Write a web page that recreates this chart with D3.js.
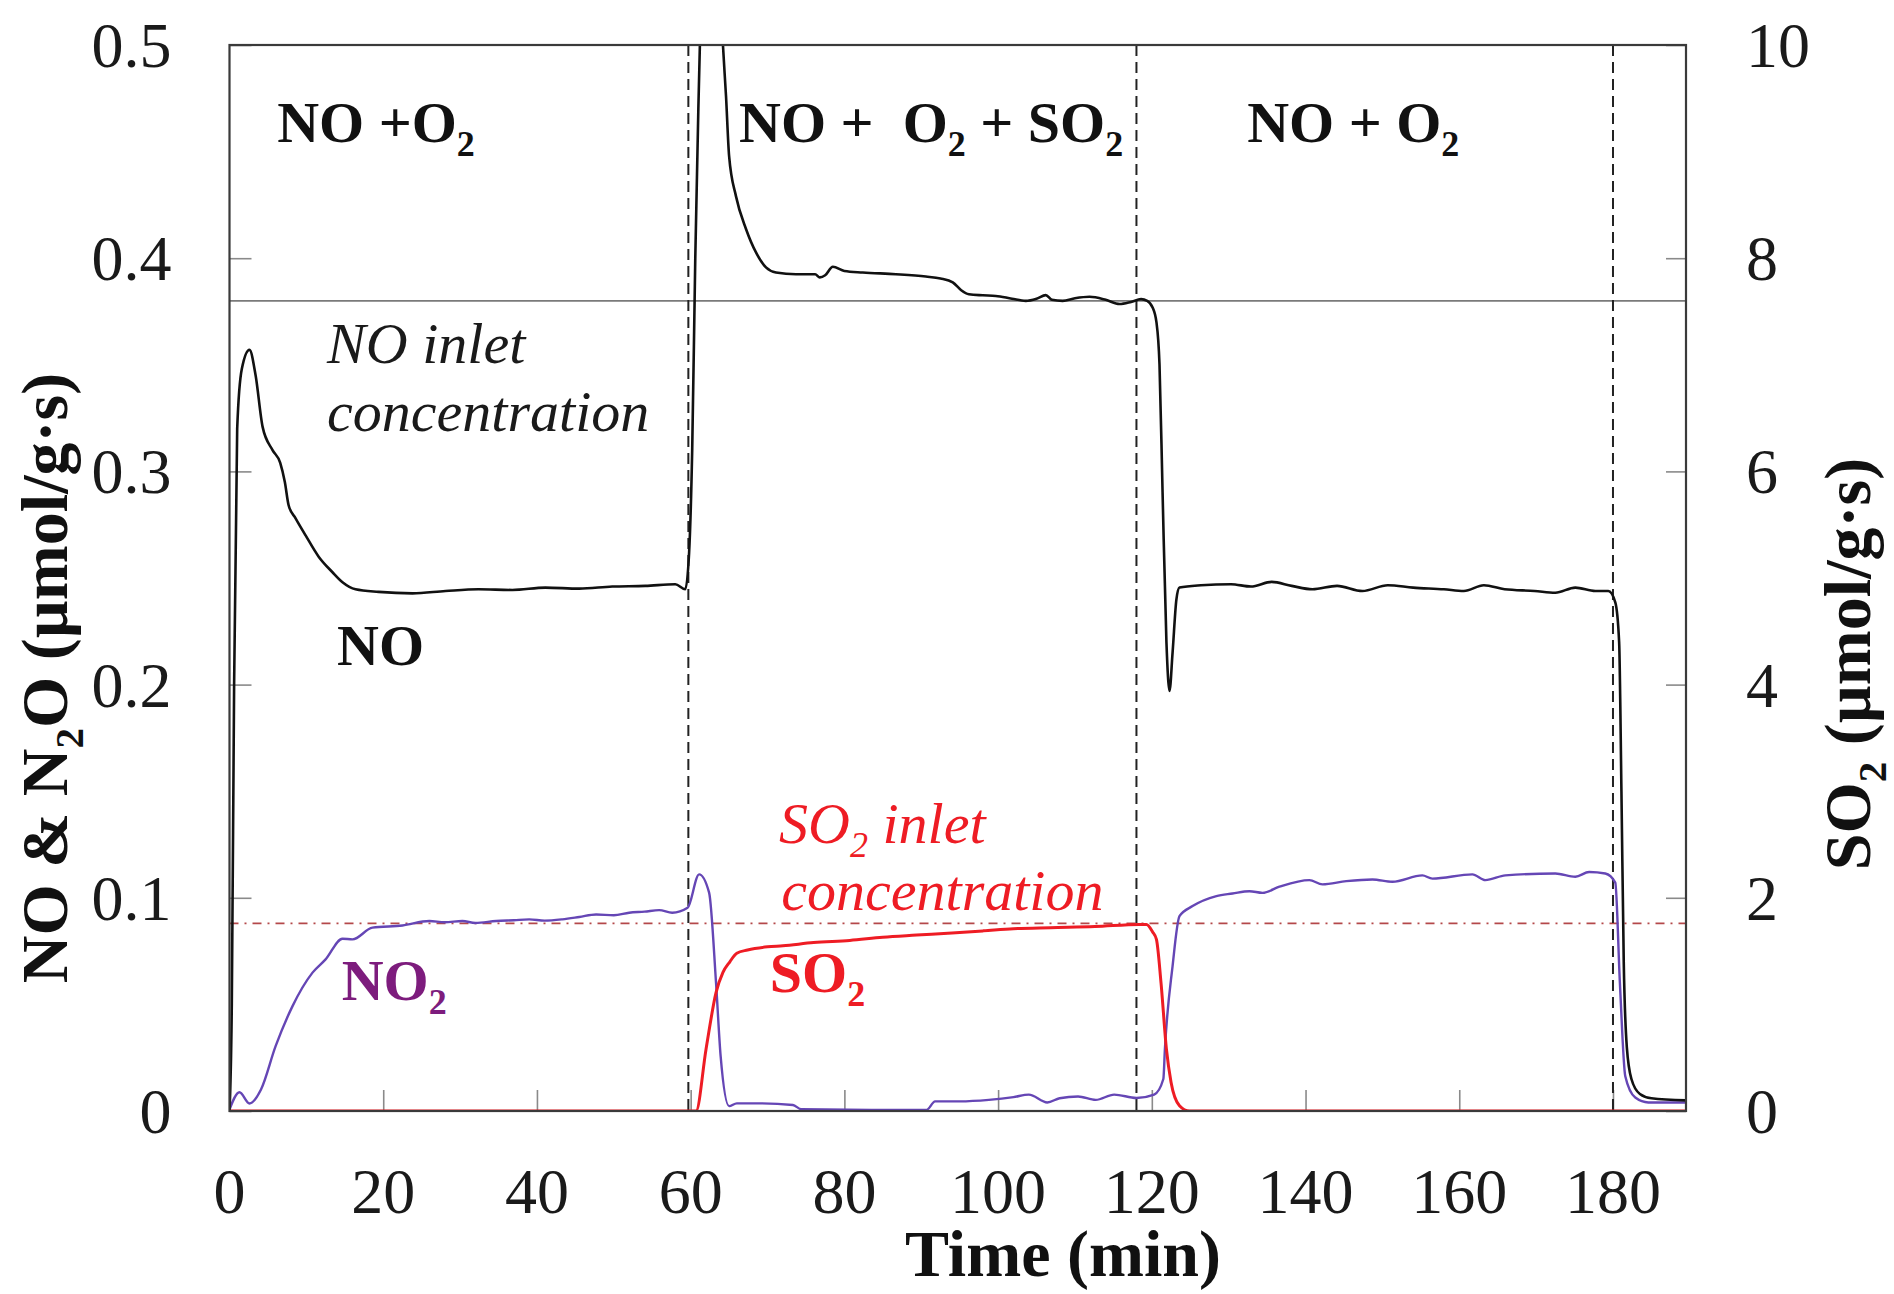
<!DOCTYPE html>
<html>
<head>
<meta charset="utf-8">
<script src="https://cdn.jsdelivr.net/npm/d3@7/dist/d3.min.js"></script>
<style>
  html, body { margin: 0; padding: 0; background: #ffffff; }
  svg { display: block; font-family: "Liberation Serif", "Times New Roman", serif; }
  text { white-space: pre; }
</style>
</head>
<body>
<svg id="chart" width="1894" height="1294"></svg>
<script>
// Time axis (min) and value axes
const timeTicks = [0, 20, 40, 60, 80, 100, 120, 140, 160, 180];
const leftTicks = [0, 0.1, 0.2, 0.3, 0.4, 0.5];
const leftTickLabels = ["0", "0.1", "0.2", "0.3", "0.4", "0.5"];
const rightTicks = [0, 2, 4, 6, 8, 10];

// Gas switching times (min)
const phaseBoundaries = [59.7, 118, 180];

// Inlet concentrations
const noInlet = 0.38;   // µmol/g·s, left axis
const so2Inlet = 1.76;  // µmol/g·s, right axis

// NO outlet (µmol/g·s), [time, value]
const noSeries = [
  [0,0],[0.3,0.05],[0.6,0.2],[1.0,0.32],[1.6,0.348],[2.6,0.357],[3.4,0.345],[4.3,0.321],
  [5.6,0.31],[6.6,0.304],[7.2,0.295],[7.7,0.284],[8.6,0.278],[9.9,0.27],[11.6,0.26],
  [13.4,0.2527],[14.7,0.248],[16.4,0.2447],[19.4,0.2435],[23.8,0.2428],[28.1,0.2439],
  [32.4,0.2447],[36.8,0.2444],[41.1,0.2455],[45.5,0.245],[49.8,0.246],[54.1,0.2463],
  [58.0,0.2471],[59.3,0.2447],[59.8,0.262],[60.2,0.31],[60.6,0.40],[61.0,0.47],[61.4,0.53],
  [62.5,0.62],[63.5,0.56],[64.2,0.50],[64.6,0.476],[65.0,0.448],[65.9,0.429],[67.2,0.4137],
  [68.5,0.4027],[69.8,0.3957],[71.1,0.3933],[73.7,0.3925],[76.2,0.3925],[76.8,0.391],
  [77.5,0.392],[78.5,0.396],[80,0.394],[82.4,0.3933],[86.7,0.3925],[90.6,0.3914],
  [92.5,0.3905],[94.1,0.3887],[95.2,0.385],[96.2,0.3831],[98,0.3826],[99.7,0.3823],
  [101.8,0.381],[103.6,0.380],[105,0.381],[106.2,0.3827],[107,0.3805],[108.4,0.380],
  [110,0.3812],[111.9,0.3819],[114,0.3805],[115.8,0.3785],[117.3,0.3795],[118.6,0.3808],
  [119.4,0.380],[120.1,0.3769],[120.6,0.37],[121.0,0.35],[121.4,0.29],[121.9,0.22],
  [122.3,0.197],[122.7,0.215],[123.2,0.24],[123.6,0.2455],[126.4,0.2466],[130.3,0.2471],
  [132.9,0.246],[135.6,0.2482],[138.2,0.2463],[140.9,0.2447],[144.1,0.2463],[147.4,0.2439],
  [150.7,0.2466],[154.0,0.2455],[158.0,0.2447],[160.6,0.2439],[163.2,0.2466],[165.9,0.2447],
  [169.8,0.2439],[172.5,0.2431],[175.1,0.2455],[177.7,0.2439],[179.4,0.2439],[180.3,0.2386],
  [180.8,0.22],[181.1,0.15],[181.4,0.07],[181.8,0.03],[182.4,0.015],[183.5,0.008],
  [185,0.006],[189.5,0.005]
];

// NO2 outlet (µmol/g·s), [time, value]
const no2Series = [
  [0,0.0007],[1.3,0.0088],[2.6,0.0035],[4.1,0.0101],[6.0,0.0304],[8.2,0.0492],[10.8,0.0649],
  [12.5,0.0711],[14.7,0.0808],[16.0,0.0805],[18.6,0.086],[22.5,0.087],[26.0,0.0891],
  [28,0.0885],[30.3,0.0891],[32,0.0882],[34.7,0.0891],[37,0.0895],[39.0,0.0899],[41,0.0893],
  [43.3,0.0899],[45.5,0.091],[47.7,0.0922],[50,0.0918],[52.0,0.093],[54,0.0935],[55.9,0.0942],
  [57.6,0.093],[59.6,0.0953],[61.1,0.111],[62.4,0.1024],[63.3,0.0602],[63.9,0.0257],
  [65.0,0.0023],[66.0,0.0036],[69.2,0.0036],[73.3,0.0028],[74.4,0.0008],[83.7,0.0005],
  [90.7,0.0005],[91.8,0.0045],[95,0.0045],[98.8,0.0052],[102,0.0065],[104,0.0077],
  [106.4,0.004],[108,0.006],[110.4,0.0068],[112.7,0.0052],[115.1,0.0077],[118.0,0.0061],
  [120.3,0.0077],[121.5,0.015],[121.7,0.0289],[122.7,0.068],[123.6,0.0914],[125.3,0.0961],
  [128.4,0.1008],[130.5,0.102],[132.7,0.1031],[134.4,0.1023],[136.6,0.1052],[140.5,0.1083],
  [142.2,0.1063],[145.3,0.1078],[148.7,0.1086],[151.3,0.1075],[155.2,0.1105],[156.5,0.109],
  [161.7,0.111],[163.4,0.1083],[166.0,0.1105],[172.5,0.1114],[175.1,0.1099],[176.9,0.1121],
  [179.0,0.1114],[180.3,0.1071],[180.9,0.06],[181.6,0.0163],[182.9,0.0063],[184.6,0.004],
  [189.5,0.004]
];

// SO2 outlet (µmol/g·s, right axis), [time, value]
const so2Series = [
  [0,0],[60.7,0],[62.0,0.58],[63.3,1.11],[64.2,1.30],[65.1,1.40],[66.0,1.48],[67.4,1.51],
  [70,1.54],[72.0,1.55],[76,1.58],[80.7,1.60],[85,1.63],[89.4,1.65],[94,1.67],[98.1,1.69],
  [102,1.71],[106.8,1.72],[112.6,1.73],[118.4,1.75],[119.3,1.75],[120.1,1.68],[120.6,1.61],
  [121.2,1.2],[121.9,0.58],[122.5,0.27],[123.6,0.05],[124.9,0],[189.5,0]
];

const svg = d3.select("#chart");
const plot = { left: 229.5, right: 1686, top: 45, bottom: 1111 };

const x = d3.scaleLinear().domain([0, 189.5]).range([plot.left, plot.right]);
const yL = d3.scaleLinear().domain([0, 0.5]).range([plot.bottom, plot.top]);
const yR = d3.scaleLinear().domain([0, 10]).range([plot.bottom, plot.top]);

svg.append("defs").append("clipPath").attr("id", "plotClip")
  .append("rect")
  .attr("x", plot.left).attr("y", plot.top)
  .attr("width", plot.right - plot.left).attr("height", plot.bottom - plot.top);

// Axes with inward ticks
const tickColor = "#8a8a8a";
const axisBottom = svg.append("g")
  .attr("transform", `translate(0,${plot.bottom})`)
  .call(d3.axisBottom(x).tickValues(timeTicks).tickSize(-21).tickPadding(0).tickFormat(""));
const axisLeft = svg.append("g")
  .attr("transform", `translate(${plot.left},0)`)
  .call(d3.axisLeft(yL).tickValues(leftTicks).tickSize(-22).tickFormat(""));
const axisRight = svg.append("g")
  .attr("transform", `translate(${plot.right},0)`)
  .call(d3.axisRight(yR).tickValues(rightTicks).tickSize(-20).tickFormat(""));
[axisBottom, axisLeft, axisRight].forEach(g => {
  g.select(".domain").remove();
  g.selectAll(".tick line").attr("stroke", tickColor).attr("stroke-width", 1.6);
});

// Tick labels
const tickFont = { size: 64, color: "#1a1a1a" };
svg.append("g").selectAll("text").data(timeTicks).join("text")
  .attr("x", d => x(d)).attr("y", plot.bottom + 102)
  .attr("text-anchor", "middle")
  .attr("font-size", tickFont.size).attr("fill", tickFont.color)
  .text(d => d);
svg.append("g").selectAll("text").data(leftTicks).join("text")
  .attr("x", plot.left - 58).attr("y", d => yL(d) + 22)
  .attr("text-anchor", "end")
  .attr("font-size", tickFont.size).attr("fill", tickFont.color)
  .text((d, i) => leftTickLabels[i]);
svg.append("g").selectAll("text").data(rightTicks).join("text")
  .attr("x", plot.right + 60).attr("y", d => yR(d) + 22)
  .attr("text-anchor", "start")
  .attr("font-size", tickFont.size).attr("fill", tickFont.color)
  .text(d => d);

const layer = svg.append("g").attr("clip-path", "url(#plotClip)");

// NO inlet concentration (solid gray)
layer.append("line")
  .attr("x1", plot.left).attr("x2", plot.right)
  .attr("y1", yL(noInlet)).attr("y2", yL(noInlet))
  .attr("stroke", "#7a7a7a").attr("stroke-width", 1.8);

// SO2 inlet concentration (dash-dot)
layer.append("line")
  .attr("x1", plot.left).attr("x2", plot.right)
  .attr("y1", yR(so2Inlet)).attr("y2", yR(so2Inlet))
  .attr("stroke", "#b4484a").attr("stroke-width", 1.6)
  .attr("stroke-dasharray", "9,6,2,6");

// Gas switching markers
layer.selectAll("line.phase").data(phaseBoundaries).join("line")
  .attr("class", "phase")
  .attr("x1", d => x(d)).attr("x2", d => x(d))
  .attr("y1", plot.top).attr("y2", plot.bottom)
  .attr("stroke", "#222").attr("stroke-width", 2)
  .attr("stroke-dasharray", "11,6");

const lineL = d3.line().x(d => x(d[0])).y(d => yL(d[1])).curve(d3.curveMonotoneX);
const lineR = d3.line().x(d => x(d[0])).y(d => yR(d[1])).curve(d3.curveMonotoneX);

layer.append("path").datum(no2Series)
  .attr("d", lineL).attr("fill", "none")
  .attr("stroke", "#6546b5").attr("stroke-width", 2.4).attr("stroke-linejoin", "round");
layer.append("path").datum(so2Series)
  .attr("d", lineR).attr("fill", "none")
  .attr("stroke", "#ee1c24").attr("stroke-width", 3).attr("stroke-linejoin", "round");
layer.append("path").datum(noSeries)
  .attr("d", lineL).attr("fill", "none")
  .attr("stroke", "#111").attr("stroke-width", 2.6).attr("stroke-linejoin", "round");

// Plot frame
svg.append("rect")
  .attr("x", plot.left).attr("y", plot.top)
  .attr("width", plot.right - plot.left).attr("height", plot.bottom - plot.top)
  .attr("fill", "none").attr("stroke", "#3a3a3a").attr("stroke-width", 2.2);

// Text with chemical subscripts: parts = [text, isSubscript]
function richText(parent, px, py, parts, opts) {
  const t = parent.append("text")
    .attr("x", px).attr("y", py)
    .attr("font-size", opts.size)
    .attr("font-weight", opts.weight || "normal")
    .attr("font-style", opts.style || "normal")
    .attr("fill", opts.color || "#111");
  if (opts.anchor) t.attr("text-anchor", opts.anchor);
  if (opts.transform) t.attr("transform", opts.transform);
  let lowered = false;
  parts.forEach(([s, sub]) => {
    const sp = t.append("tspan").text(s);
    if (sub && !lowered) { sp.attr("font-size", opts.size * 0.62).attr("dy", opts.size * 0.24); lowered = true; }
    else if (!sub && lowered) { sp.attr("dy", -opts.size * 0.24); lowered = false; }
    else if (sub) { sp.attr("font-size", opts.size * 0.62); }
  });
  return t;
}

const bold58 = { size: 58, weight: "bold", color: "#111" };
richText(svg, x(6.2), yL(0.4545), [["NO +O"], ["2", true]], bold58);
richText(svg, x(66.3), yL(0.4545), [["NO +  O"], ["2", true], [" + SO"], ["2", true]], bold58);
richText(svg, x(132.4), yL(0.4545), [["NO + O"], ["2", true]], bold58);

const ital = { size: 58, style: "italic", color: "#1a1a1a" };
richText(svg, x(12.7), yL(0.351), [["NO inlet"]], ital);
richText(svg, x(12.7), yL(0.3188), [["concentration"]], ital);

const italRed = { size: 58, style: "italic", color: "#ee1c24" };
richText(svg, x(71.5), yL(0.1258), [["SO"], ["2", true], [" inlet"]], italRed);
richText(svg, x(71.8), yL(0.0943), [["concentration"]], italRed);

richText(svg, x(14.0), yL(0.209), [["NO"]], bold58);
richText(svg, x(14.6), yL(0.052), [["NO"], ["2", true]], { size: 58, weight: "bold", color: "#7d1c7d" });
richText(svg, x(70.3), yL(0.0558), [["SO"], ["2", true]], { size: 58, weight: "bold", color: "#ee1c24" });

// Axis titles
const titleOpts = { size: 66, weight: "bold", color: "#111", anchor: "middle" };
richText(svg, 1063, 1276, [["Time (min)"]], titleOpts);
richText(svg, 0, 0, [["NO & N"], ["2", true], ["O (µmol/g·s)"]],
  Object.assign({}, titleOpts, { transform: "translate(67,678) rotate(-90)" }));
richText(svg, 0, 0, [["SO"], ["2", true], [" (µmol/g·s)"]],
  Object.assign({}, titleOpts, { transform: "translate(1870,664) rotate(-90)" }));
</script>
</body>
</html>
